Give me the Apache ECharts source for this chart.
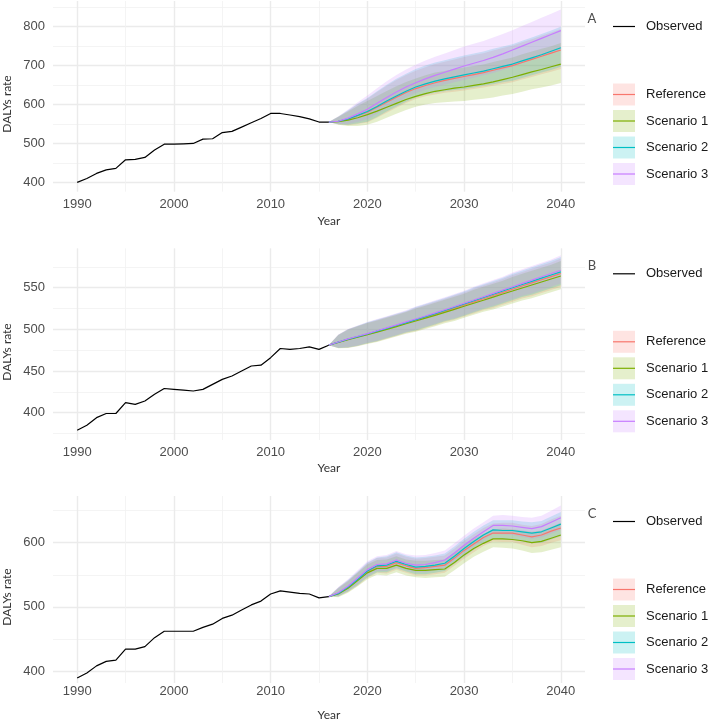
<!DOCTYPE html>
<html><head><meta charset="utf-8">
<script src="https://cdn.jsdelivr.net/npm/echarts@6/dist/echarts.min.js"></script>
<style>html,body{margin:0;padding:0;background:#fff}#c{width:709px;height:721px}</style>
</head><body><div id="c"></div>
<script>
// ---------------- DATA ----------------
const obsYears = [1990,1991,1992,1993,1994,1995,1996,1997,1998,1999,2000,2001,2002,2003,2004,2005,2006,2007,2008,2009,2010,2011,2012,2013,2014,2015,2016];
const fcYears = [2016,2017,2018,2019,2020,2021,2022,2023,2024,2025,2026,2027,2028,2029,2030,2031,2032,2033,2034,2035,2036,2037,2038,2039,2040];
const scenarioNames = ['Reference','Scenario 1','Scenario 2','Scenario 3'];
const xMajorTicks = [1990,2000,2010,2020,2030,2040];
const xMinorTicks = [1995,2005,2015,2025,2035];

// Panel A
const obsA = [400,410,423,432,436,458,459,464,483,498,498,499,500,511,512,528,531,542,553,564,577,577,573,569,563,555,555];
const refA = [555,557,562,571,580,593,606,619,631,641,649,656,662,667,672,677,682,688,694,700,708,716,724,732,740];
const s1A  = [555,556,560,566,574,583,593,603,613,621,628,634,638,642,645,649,653,658,664,670,677,684,690,697,704];
const s2A  = [555,557,563,572,582,595,609,622,634,645,653,660,666,671,676,681,686,692,698,704,712,720,728,737,746];
const s3A  = [555,557,565,576,588,603,618,632,645,656,666,675,683,691,699,706,713,721,730,740,750,760,770,780,790];
const upA  = [0,12,22,30,35,39,42,44,45,46,47,48,48,49,50,50,50,51,51,51,52,52,53,53,54];
const loA  = [0,8,15,21,26,27,27,27,27,27,28,30,32,34,36,37,38,40,41,43,44,45,46,48,49];
const yMajorA = [400,500,600,700,800];
const yMinorA = [450,550,650,750,850];

// Panel B
const obsB = [379,385,394,399,399,412,410,414,422,429,428,427,426,428,434,440,444,450,456,457,466,477,476,477,479,476,481];
const refB = [481,484.5,488,491,494,497.3,500.7,504,507.5,511,514.5,518,521.7,525.5,529.3,533,536.8,540.6,544.4,548.2,552,555.8,559.6,563.3,567];
const s1B  = [481,484.3,487.6,490.6,493.5,496.7,500,503.3,506.7,510,513.4,516.8,520.4,524,527.8,531.4,535,538.7,542.4,546,549.7,553.3,556.9,560.5,564];
const s2B  = [481,484.6,488.2,491.3,494.4,497.8,501.2,504.6,508.1,511.7,515.3,518.9,522.7,526.5,530.4,534.3,538.2,542.1,546,549.9,553.8,557.6,561.5,565.3,569];
const s3B  = [481,484.8,488.5,491.7,494.9,498.3,501.8,505.3,508.9,512.5,516.1,519.8,523.6,527.4,531.3,535.2,539.2,543.2,547.2,551.2,555.2,559.1,563.1,567,571];
const upB  = [0,9,12,13,14,14,14,14,14,15,15,15,15,15,15,16,16,16,16,17,17,17,17,17,18];
const loB  = [0,7,10,11,11,12,12,12,12,13,13,13,13,14,14,14,14,15,15,15,15,16,16,16,16];
const yMajorB = [400,450,500,550];
const yMinorB = [375,425,475,525,575];

// Panel C
const obsC = [389,397,408,415,417,434,434,438,452,462,462,462,462,468,473,482,487,495,503,509,520,525,523,521,520,514,516];
const refC = [516,521,530,542,555,563,563,569,564,560,561,563,565,576,588,598,608,615,615,615,612,609,612,618,623];
const s1C  = [516,520,529,541,553,560,560,565,560,557,557,558,559,569,581,591,599,606,606,605,603,600,602,607,612];
const s2C  = [516,521,531,543,556,564,565,571,566,562,563,565,568,579,591,602,612,620,619,619,617,615,617,623,629];
const s3C  = [516,522,532,545,558,566,567,573,568,565,566,569,573,584,596,607,617,627,627,626,624,622,625,632,639];
const upC  = [0,9,11,12,13,13,14,14,14,15,15,15,15,15,15,15,15,15,16,16,16,17,17,18,19];
const loC  = [0,5,7,9,10,10,11,11,11,11,12,12,12,12,13,13,13,13,14,14,15,16,17,18,19];
const yMajorC = [400,500,600];
const yMinorC = [450,550,650];

// ---------------- STYLE / LAYOUT ----------------
const colors = ['#F8766D','#7CAE00','#00BFC4','#C77CFF'];
const fills = ['rgba(248,118,109,0.2)','rgba(124,174,0,0.2)','rgba(0,191,196,0.2)','rgba(199,124,255,0.2)'];
const tickFont = '"Liberation Sans", Arial, sans-serif';
const titleFont = 'Lato, "Open Sans", sans-serif';
const plainNum = v => String(v);

const panels = [
  {label:'A', obs:obsA, means:[refA,s1A,s2A,s3A], up:upA, lo:loA, yMajor:yMajorA, yMinor:yMinorA,
   top:1, bottom:191.7, ymin:376, ymax:866, xMargin:6, yTitle:104, xTitle:220.7},
  {label:'B', obs:obsB, means:[refB,s1B,s2B,s3B], up:upB, lo:loB, yMajor:yMajorB, yMinor:yMinorB,
   top:248.3, bottom:440, ymin:367.2, ymax:597.3, xMargin:6, yTitle:352, xTitle:468},
  {label:'C', obs:obsC, means:[refC,s1C,s2C,s3C], up:upC, lo:loC, yMajor:yMajorC, yMinor:yMinorC,
   top:496, bottom:683, ymin:381.3, ymax:672.8, xMargin:2, yTitle:597, xTitle:715}
];

const grid = [], xAxis = [], yAxis = [], series = [], graphic = [];
const majorLine = {color:'#EBEBEB', width:1.4};
const minorLine = {color:'#F1F1F1', width:0.8};

panels.forEach((p, i) => {
  grid.push({left:53, right:124, top:p.top, height:p.bottom - p.top});
  xAxis.push({gridIndex:i, type:'value', min:1987.5, max:2042.5, position:'bottom',
    axisLine:{show:false}, axisTick:{show:false, customValues:xMajorTicks},
    axisLabel:{customValues:xMajorTicks, formatter:plainNum, color:'#4D4D4D', fontSize:13, fontFamily:tickFont, margin:p.xMargin},
    splitLine:{show:true, lineStyle:majorLine}});
  xAxis.push({gridIndex:i, type:'value', min:1987.5, max:2042.5, position:'top',
    axisLine:{show:false}, axisTick:{show:false, customValues:xMinorTicks},
    axisLabel:{show:false, customValues:xMinorTicks},
    splitLine:{show:true, lineStyle:minorLine}});
  yAxis.push({gridIndex:i, type:'value', min:p.ymin, max:p.ymax, position:'left',
    axisLine:{show:false}, axisTick:{show:false, customValues:p.yMajor},
    axisLabel:{customValues:p.yMajor, formatter:plainNum, color:'#4D4D4D', fontSize:13, fontFamily:tickFont, margin:8},
    splitLine:{show:true, lineStyle:majorLine}});
  yAxis.push({gridIndex:i, type:'value', min:p.ymin, max:p.ymax, position:'right',
    axisLine:{show:false}, axisTick:{show:false, customValues:p.yMinor},
    axisLabel:{show:false, customValues:p.yMinor},
    splitLine:{show:true, lineStyle:minorLine}});

  const xi = 2*i, yi = 2*i;
  // bands
  p.means.forEach((m, s) => {
    const hi = m.map((v,k) => v + p.up[k]);
    const lo = m.map((v,k) => v - p.lo[k]);
    series.push({type:'custom', name:scenarioNames[s]+' band', xAxisIndex:xi, yAxisIndex:yi, z:1, silent:true,
      data: fcYears.map((y,k) => [y, lo[k], hi[k]]),
      encode:{x:0, y:[1,2]},
      renderItem: (params, api) => {
        if (params.dataIndex !== 0) return null;
        const pts = [];
        for (let k = 0; k < fcYears.length; k++) pts.push(api.coord([fcYears[k], hi[k]]));
        for (let k = fcYears.length - 1; k >= 0; k--) pts.push(api.coord([fcYears[k], lo[k]]));
        return {type:'polygon', shape:{points:pts}, style:{fill:fills[s], stroke:null}};
      }});
  });
  // observed
  series.push({type:'line', name:'Observed', xAxisIndex:xi, yAxisIndex:yi, z:4, silent:true,
    symbol:'none', data: obsYears.map((y,k) => [y, p.obs[k]]),
    lineStyle:{color:'#000', width:1.2}});
  // scenario lines
  p.means.forEach((m, s) => {
    series.push({type:'line', name:scenarioNames[s], xAxisIndex:xi, yAxisIndex:yi, z:3, silent:true,
      symbol:'none', data: fcYears.map((y,k) => [y, m[k]]),
      lineStyle:{color:colors[s], width:1.2}});
  });

  // titles & legend
  graphic.push({type:'text', x:329, y:p.xTitle, style:{text:'Year', font:'12px '+titleFont, fill:'#333',
    align:'center', verticalAlign:'middle', textAlign:'center', textVerticalAlign:'middle'}});
  graphic.push({type:'text', x:7, y:p.yTitle, rotation:Math.PI/2, style:{text:'DALYs rate', font:'12px '+titleFont, fill:'#333',
    align:'center', verticalAlign:'middle', textAlign:'center', textVerticalAlign:'middle'}});
  graphic.push({type:'text', x:592, y:p.top + 18, style:{text:p.label, font:'13px '+titleFont, fill:'#4D4D4D',
    align:'center', verticalAlign:'middle', textAlign:'center', textVerticalAlign:'middle'}});
  const oy = p.top + 25.5;
  graphic.push({type:'line', shape:{x1:613, y1:oy, x2:635, y2:oy}, style:{stroke:'#000', lineWidth:1.2}});
  graphic.push({type:'text', x:646, y:oy, style:{text:'Observed', font:'13px '+tickFont, fill:'#1A1A1A',
    align:'left', verticalAlign:'middle', textAlign:'left', textVerticalAlign:'middle'}});
  scenarioNames.forEach((nm, s) => {
    const cy = p.top + 93.5 + s*26.5;
    graphic.push({type:'rect', shape:{x:613, y:cy-11, width:22, height:22}, style:{fill:fills[s]}});
    graphic.push({type:'line', shape:{x1:613, y1:cy, x2:635, y2:cy}, style:{stroke:colors[s], lineWidth:1.2}});
    graphic.push({type:'text', x:646, y:cy, style:{text:nm, font:'13px '+tickFont, fill:'#1A1A1A',
      align:'left', verticalAlign:'middle', textAlign:'left', textVerticalAlign:'middle'}});
  });
});

const chart = echarts.init(document.getElementById('c'), null, {renderer:'canvas'});
chart.setOption({animation:false, backgroundColor:'#fff', grid, xAxis, yAxis, series, graphic});
</script>
</body></html>
